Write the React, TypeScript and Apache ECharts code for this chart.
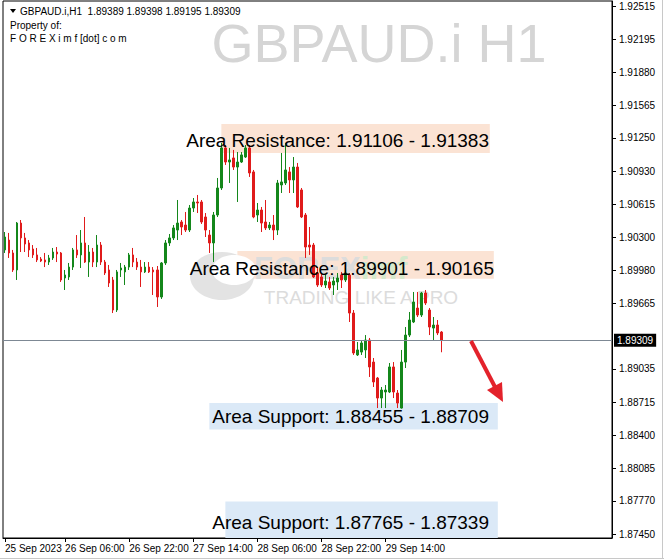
import React, { useEffect, useRef } from "react";
import * as echarts from "echarts";

// ---- data (H1 candles) ----
const openP = [
  1.90176, 1.90271, 1.90147, 1.89984, 1.90434, 1.90291, 1.90243, 1.90185, 1.90128, 1.90089,
  1.9008, 1.9006, 1.90099, 1.90156, 1.90147, 1.89907, 1.89917, 1.90012, 1.90176, 1.90128,
  1.90243, 1.9006, 1.90156, 1.9006, 1.90223, 1.9006, 1.89984, 1.89888, 1.896, 1.89984,
  1.89965, 1.90012, 1.90128, 1.9006, 1.90012, 1.89965, 1.90012, 1.89984, 1.89984, 1.89725,
  1.90051, 1.90243, 1.90291, 1.90367, 1.90444, 1.90415, 1.90367, 1.90578, 1.90636, 1.90636,
  1.90492, 1.90319, 1.90243, 1.90511, 1.9077, 1.91154, 1.91019, 1.91058, 1.90971, 1.91019,
  1.91067, 1.91154, 1.90924, 1.90511, 1.90559, 1.90444, 1.90387, 1.90415, 1.90367, 1.90799,
  1.90818, 1.90924, 1.90847, 1.90971, 1.90751, 1.90511, 1.90223, 1.90223, 1.89955, 1.89917,
  1.8984, 1.89869, 1.8984, 1.89869, 1.89936, 1.89888, 1.89936, 1.89571, 1.89169, 1.89197,
  1.89217, 1.89312, 1.89101, 1.88948, 1.88756, 1.88814, 1.88814, 1.89054, 1.88804, 1.8866,
  1.89101, 1.8936, 1.89485, 1.89619, 1.89552, 1.89763, 1.896, 1.89427, 1.89456, 1.89389,
];
const closeP = [
  1.903, 1.90147, 1.89984, 1.90434, 1.90291, 1.90233, 1.90176, 1.90128, 1.9008, 1.9007,
  1.9006, 1.90099, 1.90156, 1.90137, 1.89888, 1.89936, 1.90012, 1.90176, 1.90128, 1.90243,
  1.9006, 1.90156, 1.9006, 1.90223, 1.9006, 1.89955, 1.89859, 1.896, 1.89965, 1.90003,
  1.90012, 1.90128, 1.9006, 1.90012, 1.89965, 1.90012, 1.89965, 1.89965, 1.89725, 1.90051,
  1.90243, 1.90291, 1.90387, 1.90434, 1.90396, 1.90367, 1.90578, 1.90636, 1.90626, 1.90444,
  1.90367, 1.90243, 1.90511, 1.9077, 1.91154, 1.91019, 1.91039, 1.90971, 1.91019, 1.91087,
  1.91154, 1.90914, 1.90492, 1.90559, 1.90434, 1.90387, 1.90415, 1.90367, 1.90818, 1.90828,
  1.90943, 1.90847, 1.90971, 1.90588, 1.90492, 1.90204, 1.90204, 1.89917, 1.8984, 1.8984,
  1.89878, 1.89811, 1.89878, 1.89907, 1.89888, 1.89955, 1.89571, 1.89188, 1.89217, 1.89284,
  1.89312, 1.89054, 1.8891, 1.88756, 1.88833, 1.88833, 1.89054, 1.88814, 1.88708, 1.89101,
  1.8936, 1.89504, 1.89677, 1.89552, 1.89763, 1.89667, 1.89437, 1.89456, 1.8938, 1.89309,
];
const lowP = [
  1.90147, 1.90099, 1.89965, 1.89888, 1.90156, 1.90156, 1.90108, 1.90099, 1.9006, 1.9006,
  1.90012, 1.90032, 1.9008, 1.9006, 1.89869, 1.89792, 1.89888, 1.89984, 1.90099, 1.90003,
  1.90051, 1.89917, 1.90012, 1.90012, 1.90032, 1.89936, 1.89821, 1.89571, 1.89581, 1.89917,
  1.8984, 1.89984, 1.90012, 1.89984, 1.89821, 1.89955, 1.89955, 1.89744, 1.89629, 1.89706,
  1.90032, 1.90214, 1.90271, 1.90271, 1.90319, 1.90348, 1.90348, 1.9054, 1.9053, 1.90425,
  1.903, 1.90147, 1.9006, 1.90492, 1.90751, 1.90991, 1.90818, 1.90943, 1.90636, 1.9101,
  1.91058, 1.90876, 1.9048, 1.90444, 1.90348, 1.90367, 1.90367, 1.90271, 1.90319, 1.90722,
  1.90799, 1.90722, 1.90722, 1.90578, 1.90482, 1.90099, 1.90128, 1.89907, 1.89821, 1.89821,
  1.89811, 1.89792, 1.89744, 1.89792, 1.89811, 1.89869, 1.89485, 1.89169, 1.89159, 1.89169,
  1.8914, 1.88958, 1.88862, 1.8866, 1.8866, 1.8866, 1.88804, 1.88756, 1.8866, 1.88655,
  1.89044, 1.89341, 1.89475, 1.89533, 1.89533, 1.89648, 1.8936, 1.89312, 1.8936, 1.89195,
];
const highP = [
  1.90348, 1.90339, 1.90176, 1.90444, 1.90463, 1.90339, 1.90271, 1.90223, 1.90195, 1.90108,
  1.90147, 1.90128, 1.90195, 1.90204, 1.90156, 1.89984, 1.90051, 1.90195, 1.90319, 1.90367,
  1.90492, 1.90223, 1.90195, 1.90319, 1.90252, 1.9008, 1.90032, 1.89917, 1.89984, 1.90051,
  1.90032, 1.90147, 1.90195, 1.90099, 1.9008, 1.9006, 1.9006, 1.90012, 1.90022, 1.9006,
  1.90271, 1.90329, 1.90415, 1.90655, 1.90463, 1.9054, 1.90607, 1.90674, 1.90703, 1.90655,
  1.9053, 1.90367, 1.9054, 1.90866, 1.91202, 1.91182, 1.91154, 1.91135, 1.91115, 1.91115,
  1.91182, 1.91182, 1.90943, 1.90626, 1.90588, 1.90655, 1.90444, 1.90511, 1.90847, 1.91106,
  1.91202, 1.90971, 1.91067, 1.9101, 1.9077, 1.9053, 1.90396, 1.90243, 1.90012, 1.89955,
  1.89936, 1.89917, 1.89917, 1.89955, 1.89965, 1.90003, 1.89955, 1.896, 1.89293, 1.89312,
  1.8936, 1.89332, 1.8914, 1.88958, 1.88862, 1.88881, 1.89092, 1.89101, 1.88833, 1.89217,
  1.89437, 1.89581, 1.89773, 1.89773, 1.89773, 1.89792, 1.89619, 1.89533, 1.89504, 1.89398,
];

// category slots (hourly bars plus empty room to the right)
const categories = Array.from({ length: 152 }, (_, i) => String(i));
const xTickIndex = [0, 15, 31, 47, 63, 79, 95];
const xTickLabels = [
  "25 Sep 2023",
  "26 Sep 06:00",
  "26 Sep 22:00",
  "27 Sep 14:00",
  "28 Sep 06:00",
  "28 Sep 22:00",
  "29 Sep 14:00",
];

const yTickValues = [
  1.92515, 1.92195, 1.9188, 1.91565, 1.9125, 1.9093, 1.90615, 1.903, 1.8998, 1.89665,
  1.89035, 1.88715, 1.884, 1.88085, 1.8777, 1.8745,
];
const yMin = 1.87414;
const yMax = 1.92563;

const lastPrice = 1.89309;
const headerText = "GBPAUD.i,H1  1.89389 1.89398 1.89195 1.89309";
const titleText = "GBPAUD.i H1";

// price zones
const zoneLabels = [
  "Area Resistance: 1.91106 - 1.91383",
  "Area Resistance: 1.89901 - 1.90165",
  "Area Support: 1.88455 - 1.88709",
  "Area Support: 1.87765 - 1.87339",
];
const zoneLow = [1.91106, 1.89901, 1.88455, 1.87339];
const zoneHigh = [1.91383, 1.90165, 1.88709, 1.87765];
const zoneFrom = [54, 58, 51, 55];
const zoneTo = [121, 122, 123, 123];
const zoneKind = ["res", "res", "sup", "sup"];

// label anchor (right end / vertical middle) of each zone caption, in pixels
const zoneLabelX = [489, 494, 489, 489];
const zoneLabelY = [140, 268, 416, 522];

const FONT = "Liberation Sans, Arial, sans-serif";
const UP = "#14871b";
const DOWN = "#e01b1b";

export default function App() {
  const ref = useRef<HTMLDivElement>(null);

  useEffect(() => {
    if (!ref.current) return;
    const chart = echarts.init(ref.current, null, { renderer: "svg" });

    const candles = openP.map((o, i) => [o, closeP[i], lowP[i], highP[i]]);
    const showTick = (idx: number) => xTickIndex.indexOf(idx) >= 0;

    const areaData = zoneLabels.map((_t, i) => [
      {
        xAxis: zoneFrom[i],
        yAxis: zoneHigh[i],
        itemStyle: { color: zoneKind[i] === "res" ? "#fbe3d4" : "#dbe9f7" },
      },
      { xAxis: zoneTo[i], yAxis: zoneLow[i] },
    ]);

    const zoneTexts = zoneLabels.map((txt, i) => ({
      type: "text",
      x: zoneLabelX[i],
      y: zoneLabelY[i],
      z: 20,
      silent: true,
      style: {
        text: txt,
        fill: "#000",
        fontSize: 19,
        fontFamily: FONT,
        align: "right",
        verticalAlign: "middle",
      },
    }));

    chart.setOption({
      animation: false,
      backgroundColor: "#fff",
      grid: {
        left: 3,
        top: 1,
        width: 609,
        height: 537,
        show: true,
        borderColor: "#000",
        borderWidth: 1,
        outerBoundsMode: "none",
        containLabel: false,
      },
      xAxis: {
        type: "category",
        data: categories,
        boundaryGap: true,
        axisLine: { show: true, lineStyle: { color: "#000", width: 1 } },
        axisTick: {
          show: true,
          interval: (idx: number) => showTick(idx),
          alignWithLabel: true,
          length: 4,
          lineStyle: { color: "#000" },
        },
        axisLabel: {
          interval: (idx: number) => showTick(idx),
          formatter: (_v: string, idx: number) => {
            const p = xTickIndex.indexOf(idx);
            return p >= 0 ? xTickLabels[p] : "";
          },
          align: "left",
          color: "#000",
          fontSize: 10,
          fontFamily: FONT,
          margin: 5,
          hideOverlap: false,
        },
        splitLine: { show: false },
      },
      yAxis: {
        type: "value",
        position: "right",
        min: yMin,
        max: yMax,
        scale: true,
        axisLine: { show: true, lineStyle: { color: "#000", width: 1 } },
        axisTick: {
          show: true,
          length: 4,
          customValues: yTickValues,
          lineStyle: { color: "#000" },
        },
        axisLabel: {
          customValues: yTickValues,
          formatter: (v: number) => v.toFixed(5),
          color: "#000",
          fontSize: 10,
          fontFamily: FONT,
          margin: 7,
          showMinLabel: true,
          showMaxLabel: true,
        },
        splitLine: { show: false },
      },
      graphic: [
        {
          type: "text",
          x: 379,
          y: 43,
          z: 0,
          silent: true,
          style: {
            text: titleText,
            fill: "#d5d5d5",
            fontSize: 54,
            fontFamily: FONT,
            align: "center",
            verticalAlign: "middle",
          },
        },
        {
          type: "ellipse",
          z: 2,
          silent: true,
          shape: { cx: 222, cy: 276, rx: 32, ry: 24 },
          style: { fill: "#e3e3e3" },
        },
        {
          type: "ellipse",
          z: 2,
          silent: true,
          shape: { cx: 234, cy: 270, rx: 22, ry: 15 },
          style: { fill: "#ffffff" },
        },
        {
          type: "text",
          x: 254,
          y: 268,
          z: 2,
          silent: true,
          style: {
            text: "{a|FOREX}{b|imf}",
            rich: {
              a: { fill: "#dcdcdc", fontSize: 31, fontWeight: "bold", fontFamily: FONT },
              b: { fill: "#d4e9cc", fontSize: 31, fontWeight: "bold", fontFamily: FONT },
            },
            align: "left",
            verticalAlign: "middle",
          },
        },
        {
          type: "text",
          x: 361,
          y: 297,
          z: 2,
          silent: true,
          style: {
            text: "TRADING LIKE A PRO",
            fill: "#dcdcdc",
            fontSize: 19,
            fontFamily: FONT,
            align: "center",
            verticalAlign: "middle",
          },
        },
        ...zoneTexts,
        {
          type: "polygon",
          z: 10,
          silent: true,
          shape: { points: [[10, 9], [16, 9], [13, 13]] },
          style: { fill: "#000" },
        },
        {
          type: "text",
          x: 20,
          y: 11,
          z: 10,
          silent: true,
          style: {
            text: headerText,
            fill: "#000",
            fontSize: 10,
            fontFamily: FONT,
            align: "left",
            verticalAlign: "middle",
          },
        },
        {
          type: "text",
          x: 10,
          y: 25,
          z: 10,
          silent: true,
          style: {
            text: "Property of:",
            fill: "#000",
            fontSize: 10,
            fontFamily: FONT,
            align: "left",
            verticalAlign: "middle",
          },
        },
        {
          type: "text",
          x: 10,
          y: 38,
          z: 10,
          silent: true,
          style: {
            text: "F O R E X i m f [dot] c o m",
            fill: "#000",
            fontSize: 10,
            fontFamily: FONT,
            align: "left",
            verticalAlign: "middle",
          },
        },
        {
          type: "line",
          z: 10,
          silent: true,
          shape: { x1: 471, y1: 341, x2: 495, y2: 387 },
          style: { stroke: "#e3222b", lineWidth: 4 },
        },
        {
          type: "polygon",
          z: 10,
          silent: true,
          shape: { points: [[503, 402], [487, 390], [502, 382]] },
          style: { fill: "#e3222b" },
        },
        {
          type: "line",
          z: 10,
          silent: true,
          shape: { x1: 0, y1: 558.5, x2: 664, y2: 558.5 },
          style: { stroke: "#c8c8c8", lineWidth: 1 },
        },
        {
          type: "line",
          z: 10,
          silent: true,
          shape: { x1: 662.5, y1: 0, x2: 662.5, y2: 559 },
          style: { stroke: "#c8c8c8", lineWidth: 1 },
        },
      ],
      series: [
        {
          type: "candlestick",
          data: candles,
          barWidth: 2,
          z: 3,
          itemStyle: {
            color: UP,
            color0: DOWN,
            borderColor: UP,
            borderColor0: DOWN,
            borderWidth: 1,
          },
          markArea: {
            silent: true,
            z: 1,
            data: areaData,
          },
        },
        {
          type: "line",
          data: [],
          z: 4,
          symbol: "none",
          markLine: {
            silent: true,
            precision: 5,
            symbol: ["none", "none"],
            lineStyle: { color: "#7d8894", width: 1, type: "solid" },
            label: {
              show: true,
              position: "end",
              distance: 2,
              formatter: lastPrice.toFixed(5),
              backgroundColor: "#000",
              color: "#fff",
              fontSize: 10,
              fontFamily: FONT,
              padding: [2, 3, 1, 3],
            },
            data: [{ yAxis: lastPrice }],
          },
        },
      ],
    });

    return () => chart.dispose();
  }, []);

  return (
    <div
      ref={ref}
      style={{ position: "absolute", left: 0, top: 0, width: 664, height: 560, background: "#fff" }}
    />
  );
}
